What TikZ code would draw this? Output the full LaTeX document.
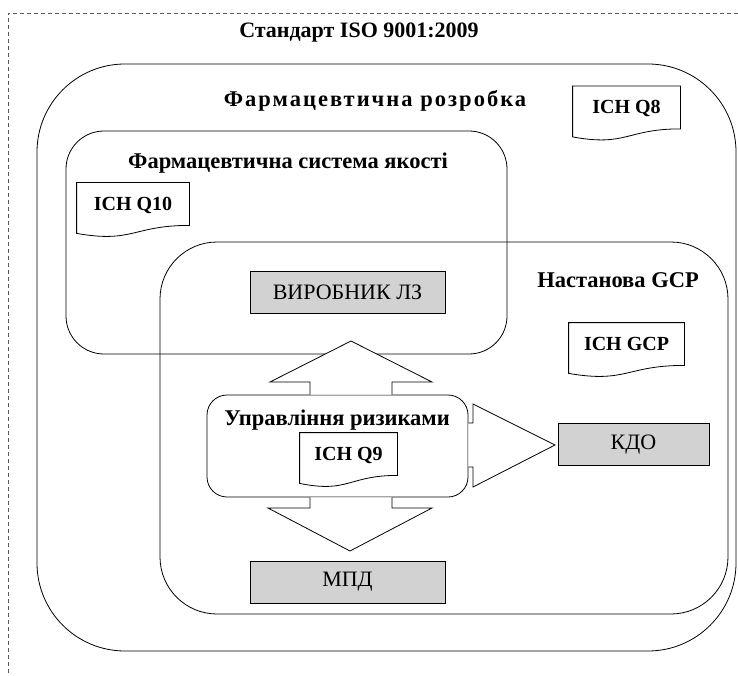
\documentclass[tikz,border=0pt]{standalone}
\usepackage{fontspec}
\setmainfont{Liberation Serif}
\usetikzlibrary{calc}

% outline of a document shape round a node
\newcommand{\docoutline}[1]{%
  \draw (#1.north west) -- (#1.north east) -- ($(#1.south east)+(0pt,12pt)$)
    .. controls ($(#1.south)+(0pt,12pt)$) and ($(#1.south)+(0pt,-6pt)$)
    .. ($(#1.south west)+(0pt,4pt)$) -- cycle;}

\begin{document}
\begin{tikzpicture}[x=1pt, y=-1pt, line width=0.8pt,
    lbl/.style={font=\fontsize{22.5}{27}\selectfont\bfseries},
    doc/.style={font=\fontsize{20}{24}\selectfont\bfseries, minimum height=54pt,
      text depth=13pt, inner sep=0pt},
    graybox/.style={draw, fill=gray!35, inner sep=0pt, minimum height=42pt,
      font=\fontsize{22}{26}\selectfont},
    blockarr/.style={draw, fill=white}]
        \useasboundingbox (0,0) rectangle (738,676);
        \draw[dash pattern=on 4pt off 3pt, gray!70!black] (738,13) -- (8,13) -- (8,676);
        \node[font=\fontsize{22}{26}\selectfont\bfseries] (title) at (359,33) {Стандарт ISO 9001:2009};

        \draw[rounded corners=88pt] (37,64) rectangle (736,651);
        \node[lbl, font=\fontsize{22.5}{27}\selectfont\bfseries\addfontfeature{LetterSpace=9}] (devlbl) at (375,101) {Фармацевтична розробка};
        \draw[rounded corners=38pt] (66,131) rectangle (507,354);
        \node[lbl] (qsyslbl) at (288,163) {Фармацевтична система якості};
        \draw[rounded corners=57pt] (160,242) rectangle (728,614);
        \node[lbl] (gcplbl) at (618,280) {Настанова GCP};

        \node[doc, minimum width=107pt] (q8) at (626.5,113.5) {ICH Q8};
        \docoutline{q8}
        \node[doc, minimum width=112pt] (q10) at (133,210) {ICH Q10};
        \docoutline{q10}
        \node[doc, minimum width=115pt] (gcpdoc) at (626.5,350) {ICH GCP};
        \docoutline{gcpdoc}

        \node[graybox, minimum width=195pt] (maker) at (347.5,292) {ВИРОБНИК ЛЗ};
        \node[graybox, minimum width=151pt] (kdo) at (633.5,444.5) {КДО};
        \node[graybox, minimum width=195pt] (mpd) at (347.5,582) {МПД};

        \node[draw, rounded corners=20pt, minimum width=261pt, minimum height=102pt] (risk) at (337.5,446) {};
        \node[lbl] (risklbl) at (337,420) {Управління ризиками};
        \node[doc, minimum width=97pt] (q9) at (348.5,460) {ICH Q9};
        \docoutline{q9}

        % block arrows
        \draw[blockarr] (risk.north -| 310,0) -- (310,382) -- (270,382) -- (351,341)
        -- (432,382) -- (392,382) -- (risk.north -| 392,0);
        \draw[blockarr] (risk.south -| 310,0) -- (310,508) -- (268,508) -- (350,551)
        -- (432,508) -- (392,508) -- (risk.south -| 392,0);
        \draw[blockarr] (risk.east |- 0,423) -- (473,423) -- (473,404) -- (555,445)
        -- (473,487) -- (473,467) -- (risk.east |- 0,467);
\end{tikzpicture}
\end{document}
